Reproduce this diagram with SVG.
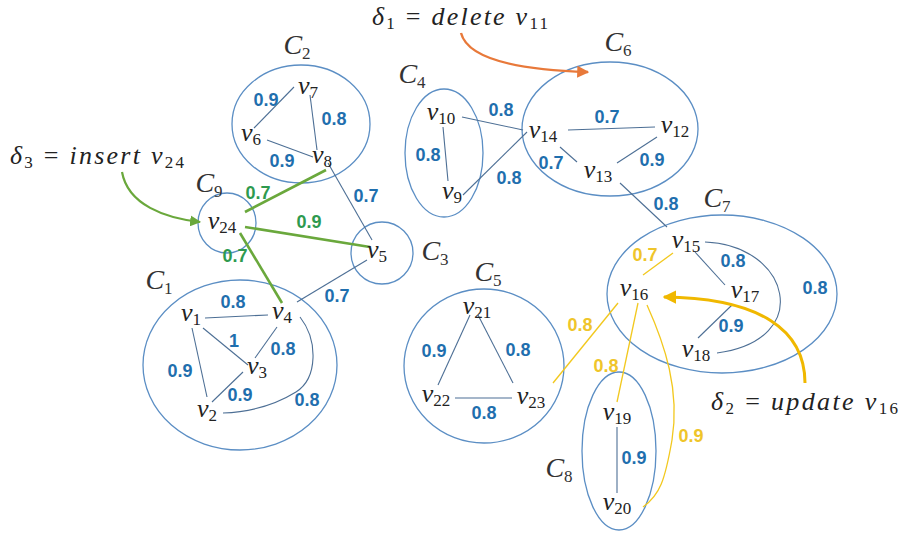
<svg xmlns="http://www.w3.org/2000/svg" width="909" height="536" viewBox="0 0 909 536">
<style>
.cl{fill:none;stroke:#5b8ec4;stroke-width:1.3}
.e{fill:none;stroke:#4d6f95;stroke-width:1.1}
.g{fill:none;stroke:#6aa83c;stroke-width:2.6}
.y{fill:none;stroke:#f2c81e;stroke-width:1.3}
.n{font-family:"Liberation Serif",serif;font-style:italic;font-size:26px;fill:#222;text-anchor:middle}
.n tspan{font-style:normal;font-size:17px}
.c{font-family:"Liberation Serif",serif;font-style:italic;font-size:28px;fill:#333;text-anchor:middle}
.c tspan{font-style:normal;font-size:17px}
.w{font-family:"Liberation Sans",Arial,sans-serif;font-weight:bold;font-size:18px;fill:#1f6fae;text-anchor:middle}
.wg{fill:#2e9a4f}
.wy{fill:#efc52a}
.d{font-family:"Liberation Serif",serif;font-style:italic;font-size:26px;fill:#222}
.d tspan.s{font-style:normal;font-size:17px}
.d tspan.r{font-style:normal}
</style>
<defs>
<marker id="ag" viewBox="0 0 10 10" refX="9" refY="5" markerWidth="5" markerHeight="5" orient="auto"><path d="M0,0L10,5L0,10z" fill="#6aa83c"/></marker>
<marker id="ao" viewBox="0 0 10 10" refX="9" refY="5" markerWidth="5" markerHeight="5" orient="auto"><path d="M0,0L10,5L0,10z" fill="#e8793a"/></marker>
<marker id="ay" viewBox="0 0 10 10" refX="9" refY="5" markerWidth="4.5" markerHeight="4.5" orient="auto"><path d="M0,0L10,5L0,10z" fill="#f0b800"/></marker>
</defs>
<rect width="909" height="536" fill="#fff"/>

<g id="clusters">
<g id="C1"><ellipse class="cl" cx="240" cy="365" rx="97" ry="85"/><text class="c" x="159" y="289">C<tspan dy="5">1</tspan></text></g>
<g id="C2"><ellipse class="cl" cx="301" cy="124" rx="69" ry="59"/><text class="c" x="297" y="54">C<tspan dy="5">2</tspan></text></g>
<g id="C3"><ellipse class="cl" cx="382" cy="253" rx="31" ry="31"/><text class="c" x="435" y="260">C<tspan dy="5">3</tspan></text></g>
<g id="C4"><ellipse class="cl" cx="444" cy="153" rx="39" ry="64"/><text class="c" x="412" y="83">C<tspan dy="5">4</tspan></text></g>
<g id="C5"><ellipse class="cl" cx="484" cy="366" rx="80" ry="77"/><text class="c" x="488" y="281">C<tspan dy="5">5</tspan></text></g>
<g id="C6"><ellipse class="cl" cx="610" cy="129" rx="88" ry="67"/><text class="c" x="618" y="51">C<tspan dy="5">6</tspan></text></g>
<g id="C7"><ellipse class="cl" cx="722" cy="294" rx="115" ry="79"/><text class="c" x="717" y="207">C<tspan dy="5">7</tspan></text></g>
<g id="C8"><ellipse class="cl" cx="619" cy="451" rx="37" ry="79"/><text class="c" x="559" y="477">C<tspan dy="5">8</tspan></text></g>
<g id="C9"><ellipse class="cl" cx="227" cy="223" rx="29" ry="30"/><text class="c" x="209" y="192">C<tspan dy="5">9</tspan></text></g>
</g>

<g id="connectors">
<line class="e" x1="254" y1="128" x2="294" y2="87"/>
<line class="e" x1="310" y1="95" x2="317" y2="150"/>
<line class="e" x1="267" y1="140" x2="313" y2="157"/>
<line class="e" x1="328" y1="163" x2="372" y2="240"/>
<line class="e" x1="443" y1="127" x2="448" y2="181"/>
<line class="e" x1="462" y1="117" x2="523" y2="130"/>
<line class="e" x1="463" y1="195" x2="527" y2="132"/>
<line class="e" x1="568" y1="130" x2="655" y2="127"/>
<line class="e" x1="560" y1="147" x2="577" y2="162"/>
<line class="e" x1="617" y1="163" x2="657" y2="137"/>
<line class="e" x1="620" y1="183" x2="667" y2="227"/>
<line class="e" x1="695" y1="252" x2="725" y2="285"/>
<line class="e" x1="732" y1="305" x2="698" y2="338"/>
<path class="e" d="M705,242 C790,245 815,340 717,353"/>
<line class="e" x1="470" y1="315" x2="438" y2="385"/>
<line class="e" x1="478" y1="315" x2="513" y2="383"/>
<line class="e" x1="455" y1="398" x2="512" y2="398"/>
<line class="e" x1="617" y1="427" x2="617" y2="493"/>
<line class="e" x1="205" y1="318" x2="268" y2="315"/>
<line class="e" x1="203" y1="328" x2="248" y2="365"/>
<line class="e" x1="277" y1="327" x2="255" y2="358"/>
<line class="e" x1="192" y1="328" x2="207" y2="397"/>
<line class="e" x1="212" y1="402" x2="243" y2="372"/>
<path class="e" d="M300,317 C318,340 318,378 296,392 C275,405 250,412 223,413"/>
<line class="e" x1="297" y1="302" x2="367" y2="260"/>
<line class="g" x1="326" y1="170" x2="245" y2="212"/>
<line class="g" x1="245" y1="227" x2="370" y2="247"/>
<line class="g" x1="240" y1="233" x2="282" y2="303"/>
<line class="y" x1="673" y1="253" x2="643" y2="275"/>
<line class="y" x1="618" y1="303" x2="553" y2="383"/>
<line class="y" x1="638" y1="303" x2="617" y2="402"/>
<path class="y" d="M647,305 C665,345 680,390 672,440 C665,480 660,495 643,507"/>
<path fill="none" stroke="#6aa83c" stroke-width="2.2" marker-end="url(#ag)" d="M122,172 C128,205 165,218 200,222"/>
<path fill="none" stroke="#e8793a" stroke-width="2.4" marker-end="url(#ao)" d="M461,33 C468,60 520,70 588,72"/>
<path fill="none" stroke="#f0b800" stroke-width="3" marker-end="url(#ay)" d="M805,383 C805,330 760,298 664,297"/>
</g>

<g id="weights">
<text class="w" x="266" y="106">0.9</text>
<text class="w" x="334" y="125">0.8</text>
<text class="w" x="282" y="167">0.9</text>
<text class="w" x="366" y="202">0.7</text>
<text class="w wg" x="258" y="199">0.7</text>
<text class="w wg" x="309" y="228">0.9</text>
<text class="w wg" x="235" y="262">0.7</text>
<text class="w" x="428" y="161">0.8</text>
<text class="w" x="501" y="116">0.8</text>
<text class="w" x="509" y="184">0.8</text>
<text class="w" x="607" y="123">0.7</text>
<text class="w" x="551" y="169">0.7</text>
<text class="w" x="652" y="166">0.9</text>
<text class="w" x="666" y="210">0.8</text>
<text class="w" x="733" y="267">0.8</text>
<text class="w" x="731" y="332">0.9</text>
<text class="w" x="815" y="294">0.8</text>
<text class="w wy" x="645" y="261">0.7</text>
<text class="w wy" x="580" y="331">0.8</text>
<text class="w wy" x="606" y="372">0.8</text>
<text class="w wy" x="691" y="442">0.9</text>
<text class="w" x="434" y="357">0.9</text>
<text class="w" x="518" y="356">0.8</text>
<text class="w" x="484" y="419">0.8</text>
<text class="w" x="634" y="464">0.9</text>
<text class="w" x="233" y="308">0.8</text>
<text class="w" x="234" y="347">1</text>
<text class="w" x="283" y="355">0.8</text>
<text class="w" x="180" y="377">0.9</text>
<text class="w" x="240" y="401">0.9</text>
<text class="w" x="307" y="406">0.8</text>
<text class="w" x="337" y="302">0.7</text>
</g>

<g id="nodes">
<g id="v1"><text class="n" x="191" y="321">v<tspan dy="4">1</tspan></text></g>
<g id="v2"><text class="n" x="207" y="417">v<tspan dy="4">2</tspan></text></g>
<g id="v3"><text class="n" x="257" y="374">v<tspan dy="4">3</tspan></text></g>
<g id="v4"><text class="n" x="282" y="319">v<tspan dy="4">4</tspan></text></g>
<g id="v5"><text class="n" x="377" y="258">v<tspan dy="4">5</tspan></text></g>
<g id="v6"><text class="n" x="251" y="141">v<tspan dy="4">6</tspan></text></g>
<g id="v7"><text class="n" x="308" y="94">v<tspan dy="4">7</tspan></text></g>
<g id="v8"><text class="n" x="322" y="163">v<tspan dy="4">8</tspan></text></g>
<g id="v9"><text class="n" x="452" y="199">v<tspan dy="4">9</tspan></text></g>
<g id="v10"><text class="n" x="441" y="120">v<tspan dy="4">10</tspan></text></g>
<g id="v12"><text class="n" x="675" y="133">v<tspan dy="4">12</tspan></text></g>
<g id="v13"><text class="n" x="598" y="178">v<tspan dy="4">13</tspan></text></g>
<g id="v14"><text class="n" x="543" y="138">v<tspan dy="4">14</tspan></text></g>
<g id="v15"><text class="n" x="686" y="248">v<tspan dy="4">15</tspan></text></g>
<g id="v16"><text class="n" x="634" y="296">v<tspan dy="4">16</tspan></text></g>
<g id="v17"><text class="n" x="745" y="298">v<tspan dy="4">17</tspan></text></g>
<g id="v18"><text class="n" x="696" y="357">v<tspan dy="4">18</tspan></text></g>
<g id="v19"><text class="n" x="617" y="420">v<tspan dy="4">19</tspan></text></g>
<g id="v20"><text class="n" x="617" y="510">v<tspan dy="4">20</tspan></text></g>
<g id="v21"><text class="n" x="477" y="314">v<tspan dy="4">21</tspan></text></g>
<g id="v22"><text class="n" x="436" y="402">v<tspan dy="4">22</tspan></text></g>
<g id="v23"><text class="n" x="531" y="404">v<tspan dy="4">23</tspan></text></g>
<g id="v24"><text class="n" x="222" y="229">v<tspan dy="4">24</tspan></text></g>
</g>

<g id="annotations">
<text class="d" x="10" y="164" textLength="174" lengthAdjust="spacing">δ<tspan class="s" dy="4">3</tspan><tspan class="r" dy="-4"> = </tspan>insert v<tspan class="s" dy="4">24</tspan></text>
<text class="d" x="372" y="25" textLength="176" lengthAdjust="spacing">δ<tspan class="s" dy="4">1</tspan><tspan class="r" dy="-4"> = </tspan>delete v<tspan class="s" dy="4">11</tspan></text>
<text class="d" x="711" y="410" textLength="187" lengthAdjust="spacing">δ<tspan class="s" dy="4">2</tspan><tspan class="r" dy="-4"> = </tspan>update v<tspan class="s" dy="4">16</tspan></text>
</g>
</svg>
